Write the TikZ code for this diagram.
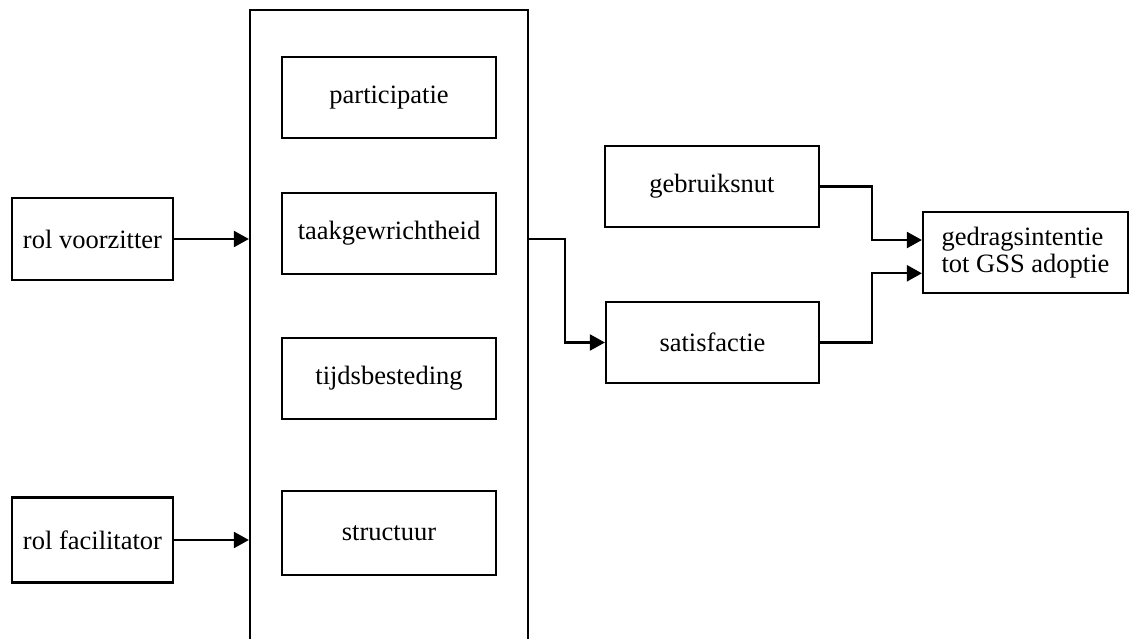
\documentclass[tikz,border=0pt]{standalone}
\usepackage{fontspec}
\setmainfont{Liberation Serif}
\usetikzlibrary{arrows.meta,calc}
\begin{document}
\begin{tikzpicture}[x=1pt,y=-1pt,
  box/.style={draw,line width=2.2pt,inner sep=0pt,font=\fontsize{26.5}{27}\selectfont},
  conn/.style={line width=2.2pt},
  arr/.style={conn,-{Triangle[length=15pt,width=16pt]}}]
\useasboundingbox (0,0) rectangle (1130,639);
\clip (0,0) rectangle (1130,639);
% left boxes
\node[box,minimum width=161pt,minimum height=82pt] (voorz) at (92.5,239) {rol voorzitter};
\node[box,minimum width=161pt,minimum height=85pt] (facil) at (92.5,540) {rol facilitator};
% big container
\node[box,minimum width=278pt,minimum height=650pt] (big) at (389,335) {};
\node[box,minimum width=214pt,minimum height=81pt] (part) at (389,97.5) {participatie};
\node[box,minimum width=214pt,minimum height=81pt] (taak) at (389,233.5) {taakgewrichtheid};
\node[box,minimum width=214pt,minimum height=81pt] (tijd) at (389,378.5) {tijdsbesteding};
\node[box,minimum width=214pt,minimum height=84pt] (struc) at (389,533) {structuur};
% right side
\node[box,minimum width=214pt,minimum height=81pt] (gebr) at (712,186.5) {gebruiksnut};
\node[box,minimum width=213pt,minimum height=81pt] (satis) at (712.5,342.5) {satisfactie};
\node[box,minimum width=205pt,minimum height=81pt,align=left] (gedrag) at (1025.5,252.5) {gedragsintentie\\tot GSS adoptie};
% connectors
\draw[arr] (voorz.east) -- (voorz.east -| big.west);
\draw[arr] (facil.east) -- (facil.east -| big.west);
\coordinate (bx) at (565,0);
\coordinate (gx) at (872,0);
\coordinate (g1) at ($(gedrag.north west)!0.35!(gedrag.south west)$);
\coordinate (g2) at ($(gedrag.north west)!0.75!(gedrag.south west)$);
\draw[arr] (big.east |- voorz.east) -| (bx |- satis.west) -- (satis.west);
\draw[arr] (gebr.east) -| (gx |- g1) -- (g1);
\draw[arr] (satis.east) -| (gx |- g2) -- (g2);
\end{tikzpicture}
\end{document}
